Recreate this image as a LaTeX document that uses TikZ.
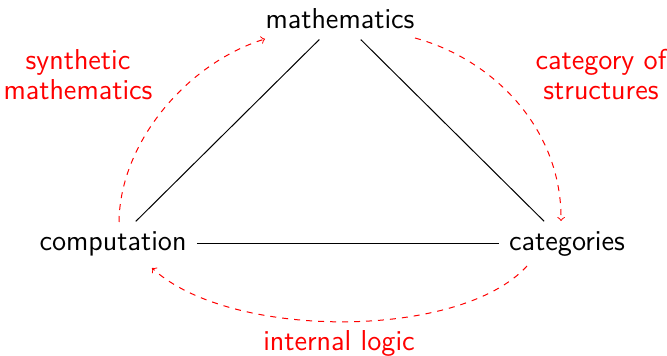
\documentclass[tikz,border=0pt]{standalone}
\usetikzlibrary{arrows}
\begin{document}
\begin{tikzpicture}[x=0.5pt,y=-0.5pt,
  every node/.style={font=\sffamily\fontsize{14.4}{15}\selectfont},
  main/.style={inner sep=5pt},
  lbl/.style={text=red,align=center},
  edge/.style={black,line width=0.5pt},
  rel/.style={red,dashed,line width=0.5pt,->}]
\useasboundingbox (0,0) rectangle (667,356);
\node[main] (m) at (340,19) {mathematics};
\node[main] (c) at (113,244) {computation};
\node[main] (k) at (567,244) {categories};
\draw[edge] (m) -- (c);
\draw[edge] (m) -- (k);
\draw[edge] (c) -- (k);
\coordinate (a1) at (119,222);
\coordinate (a2) at (265,39);
\coordinate (b1) at (415,38);
\coordinate (b2) at (561,221);
\coordinate (c1) at (527,266);
\coordinate (c2) at (152,268);
\draw[rel] (a1) .. controls (120,140) and (190,62) .. (a2);
\draw[rel] (b1) .. controls (495,60) and (562,130) .. (b2);
\draw[rel] (c1) .. controls (460,340) and (230,340) .. (c2);
\node[lbl] (l1) at (78,75) {synthetic\\mathematics};
\node[lbl] (l2) at (601,75) {category of\\structures};
\node[lbl] (l3) at (339,343) {internal logic};
\end{tikzpicture}
\end{document}
